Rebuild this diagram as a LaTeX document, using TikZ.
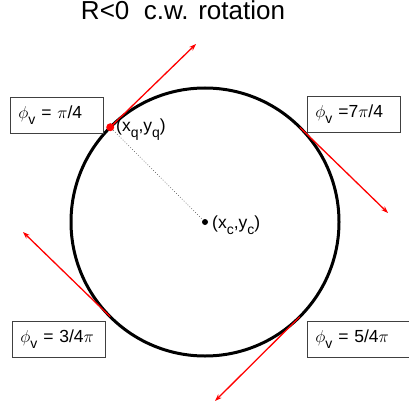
\documentclass[tikz,border=0pt]{standalone}
\usepackage{fontspec}
\setmainfont{Liberation Sans}
\usetikzlibrary{arrows.meta}
\newcommand\phv{$\phi$\raisebox{-6pt}{\fontsize{14}{14}\selectfont v}}
\newcommand\sbs[1]{\raisebox{-6pt}{\fontsize{14}{14}\selectfont #1}}
\begin{document}
\begin{tikzpicture}[x=1pt,y=-1pt,
  lbl/.style={draw=black!75, line width=0.9pt, minimum height=36pt, text width=77pt,
    inner xsep=8pt, inner ysep=0pt, align=left, anchor=north west,
    font=\fontsize{17.5}{17.5}\selectfont},
  tan/.style={red, line width=1.3pt, -{Stealth[length=7pt,width=5pt]}},
  ptlbl/.style={anchor=west, inner sep=0pt, font=\fontsize{17.5}{17.5}\selectfont}]
\useasboundingbox (0,0) rectangle (408,409);
\node[font=\fontsize{26}{26}\selectfont, anchor=base] (title) at (183,20) {R<0\ \ c.w. rotation};
\node[circle, draw, line width=3pt, minimum size=268pt, inner sep=0pt, outer sep=0pt] (C) at (205,222) {};
\coordinate (e1) at (196,44);
\coordinate (e2) at (388,213);
\coordinate (e3) at (23,232);
\coordinate (e4) at (215,401);
\node[circle, fill=black, inner sep=0pt, minimum size=6pt] (c) at (C.center) {};
\node[circle, fill=red, inner sep=0pt, minimum size=8pt] (q) at (C.135) {};
\draw[dotted, line width=0.7pt, black!70] (q) -- (c);
\draw[tan] (C.135) -- (e1);
\draw[tan] (C.45) -- (e2);
\draw[tan] (C.225) -- (e3);
\draw[tan] (C.-45) -- (e4);
\node[ptlbl] (ql) at (116,130) {(x\sbs{q},y\sbs{q})};
\node[ptlbl] (cl) at (212,225) {(x\sbs{c},y\sbs{c})};
\node[lbl] (b1) at (10,97) {\phv{} = $\pi$/4};
\node[lbl] (b2) at (307,96) {\phv{} =7$\pi$/4};
\node[lbl] (b3) at (12,321) {\phv{} = 3/4$\pi$};
\node[lbl, text width=90pt] (b4) at (307,321) {\phv{} = 5/4$\pi$};
\end{tikzpicture}
\end{document}
